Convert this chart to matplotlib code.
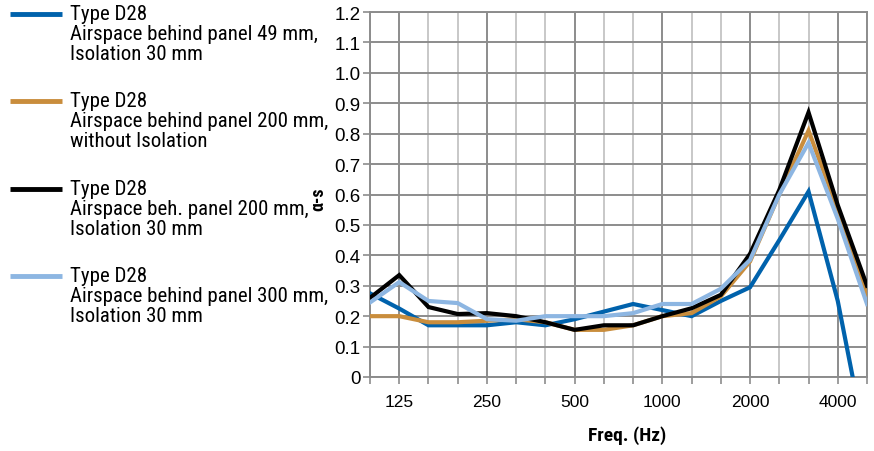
import numpy as np
import matplotlib.pyplot as plt
from matplotlib import font_manager
from matplotlib.lines import Line2D
from matplotlib.ticker import FixedLocator, FuncFormatter

# third-octave bands 100 Hz .. 5000 Hz
freqs = [100, 125, 160, 200, 250, 315, 400, 500, 630, 800,
         1000, 1250, 1600, 2000, 2500, 3150, 4000, 5000]
tick_labels = ["125", "250", "500", "1000", "2000", "4000"]

alpha_49_iso = [0.275, 0.225, 0.17, 0.17, 0.17, 0.18, 0.17, 0.19, 0.215, 0.24,
                0.22, 0.20, 0.25, 0.295, 0.45, 0.61, 0.25, -0.24]
alpha_200_noiso = [0.20, 0.20, 0.18, 0.18, 0.185, 0.19, 0.18, 0.155, 0.155, 0.17,
                   0.20, 0.21, 0.265, 0.38, 0.60, 0.81, 0.55, 0.27]
alpha_200_iso = [0.26, 0.335, 0.23, 0.207, 0.21, 0.20, 0.18, 0.155, 0.17, 0.17,
                 0.20, 0.226, 0.27, 0.405, 0.615, 0.87, 0.565, 0.30]
alpha_300_iso = [0.245, 0.312, 0.25, 0.243, 0.19, 0.185, 0.20, 0.20, 0.20, 0.21,
                 0.24, 0.24, 0.29, 0.385, 0.60, 0.77, 0.52, 0.24]

labels = [
    "Type D28\nAirspace behind panel 49 mm,\nIsolation 30 mm",
    "Type D28\nAirspace behind panel 200 mm,\nwithout Isolation",
    "Type D28\nAirspace beh. panel 200 mm,\nIsolation 30 mm",
    "Type D28\nAirspace behind panel 300 mm,\nIsolation 30 mm",
]
colors = ["#0062ac", "#c98d3c", "#000000", "#8db6e2"]

# pick a narrow face if one exists, otherwise Roboto
names = {f.name for f in font_manager.fontManager.ttflist}
narrow, nsize = "Roboto", 13.2
for cand in ["Roboto Condensed", "Liberation Sans Narrow", "Open Sans Condensed"]:
    if cand in names:
        narrow, nsize = cand, 15
        break

W, H = 874, 452
fig = plt.figure(figsize=(W / 100, H / 100), dpi=100)
ax = fig.add_axes([370 / W, 1 - 378 / H, 497 / W, 365 / H])

x = np.arange(len(freqs))
series = [alpha_49_iso, alpha_200_noiso, alpha_200_iso, alpha_300_iso]
for ys, c in zip(series, colors):
    ax.plot(x, ys, color=c, lw=3.0, solid_joinstyle="miter", zorder=3)

ax.set_xlim(0, len(freqs) - 1)
ax.set_ylim(0, 1.2)

major_pos = [freqs.index(int(t)) for t in tick_labels]
minor_pos = [i for i in x if i not in major_pos]
ax.xaxis.set_major_locator(FixedLocator(major_pos))
ax.xaxis.set_minor_locator(FixedLocator(minor_pos))
ax.set_xticklabels(tick_labels, fontfamily="Liberation Sans", fontsize=12.5)
ax.set_yticks(np.arange(0, 1.21, 0.1))
ax.yaxis.set_major_formatter(FuncFormatter(lambda v, p: "0" if abs(v) < 1e-9 else f"{v:.1f}"))
for t in ax.get_yticklabels():
    t.set_fontfamily("Liberation Sans")
    t.set_fontsize(13.5)

ax.grid(which="major", axis="both", color="#8c8c8c", lw=1.4)
ax.grid(which="minor", axis="x", color="#c8c8c8", lw=1.4)
ax.tick_params(axis="x", which="both", direction="out", length=5, width=1.2,
               color="#8c8c8c", pad=7)
ax.tick_params(axis="y", direction="out", length=5, width=1.2, color="#8c8c8c", pad=2)
for s in ax.spines.values():
    s.set_color("#8c8c8c")
    s.set_linewidth(1.4)

ax.set_xlabel("Freq. (Hz)", fontfamily=narrow, fontweight="bold", fontsize=14)
ax.xaxis.set_label_coords((627 - 370) / 497, (378 - 426) / 365)
ax.set_ylabel("α-s", fontfamily=narrow, fontweight="bold", fontsize=13)
ax.yaxis.set_label_coords((327 - 370) / 497, 0.49)

# legend: handle level with the first line of each label
entry_y = [15, 102, 190, 277]
for lab, c, yy in zip(labels, colors, entry_y):
    fig.add_artist(Line2D([10 / W, 62 / W], [1 - yy / H] * 2, color=c, lw=3.5,
                          solid_capstyle="butt"))
    fig.text(70 / W, 1 - (yy - 10) / H, lab, ha="left", va="top",
             fontfamily=narrow, fontsize=nsize, linespacing=1.08)

fig.savefig("out.png", dpi=100)
